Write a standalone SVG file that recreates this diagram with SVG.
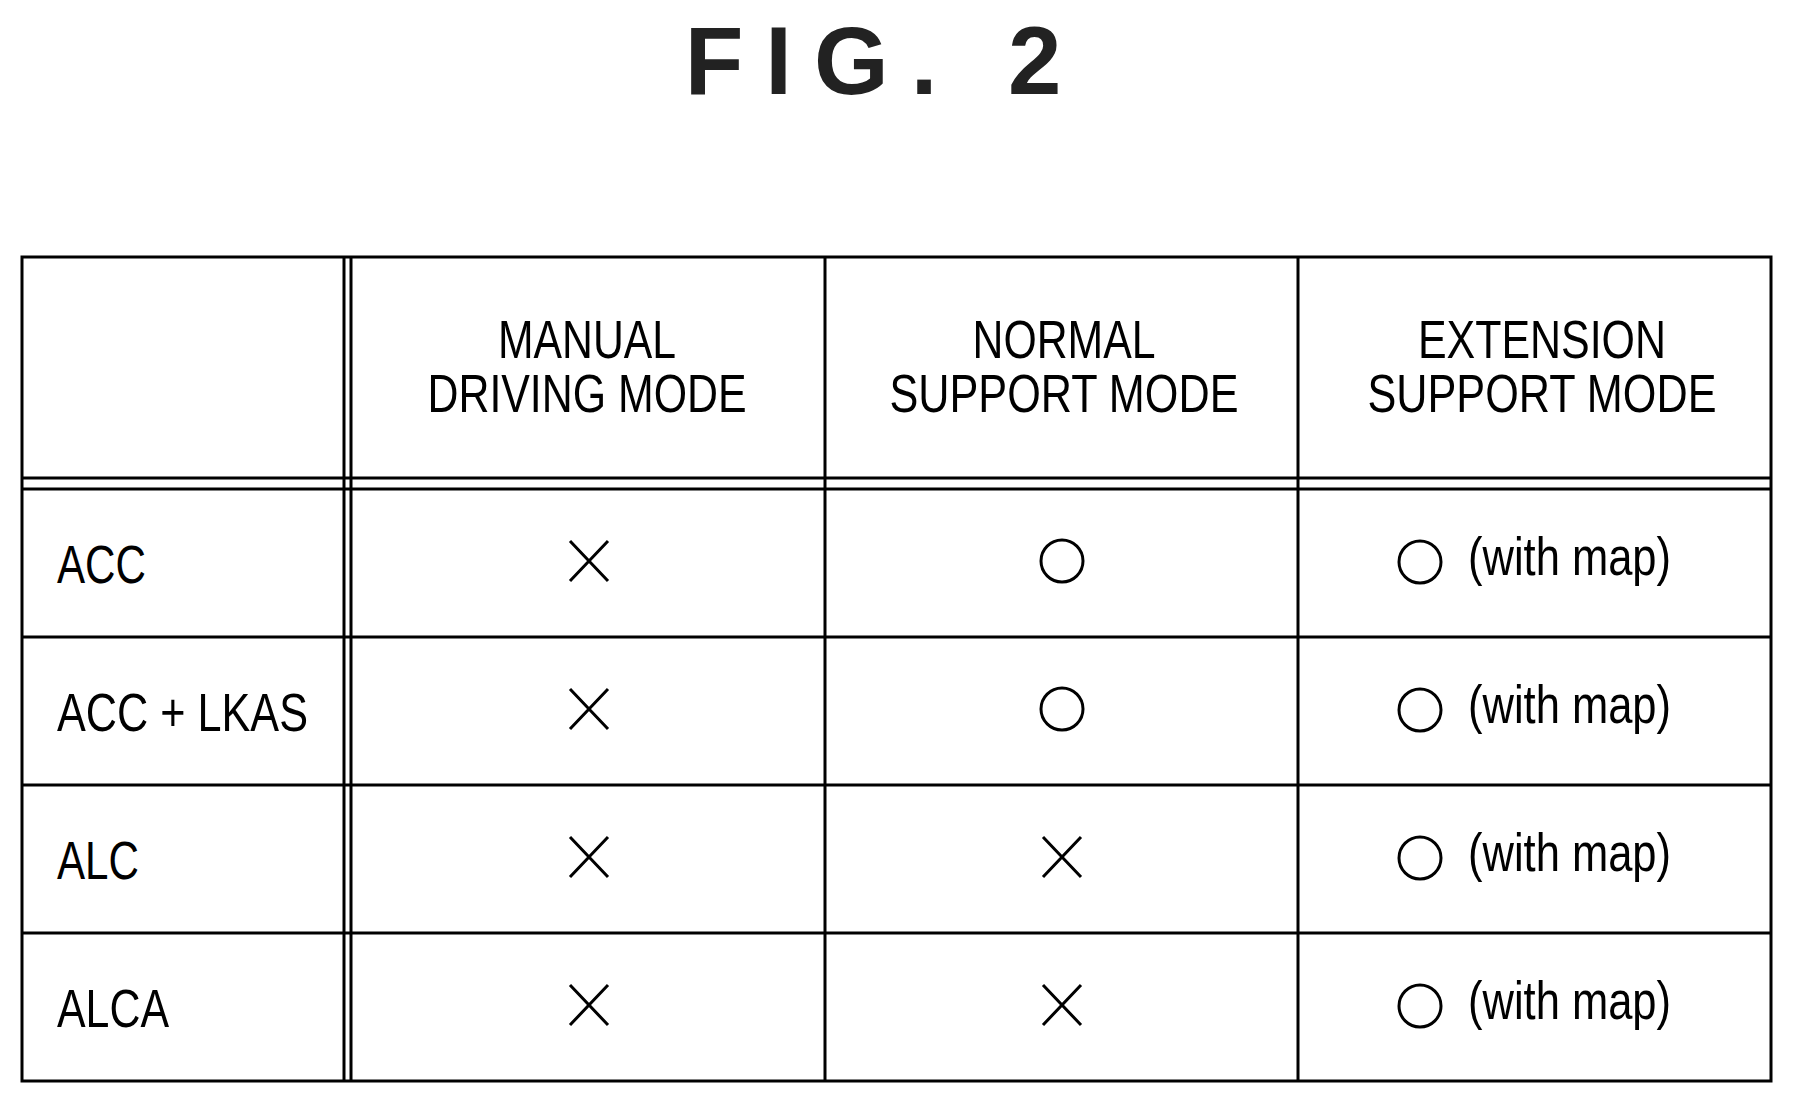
<svg xmlns="http://www.w3.org/2000/svg" width="1793" height="1102" viewBox="0 0 1793 1102">
<style>
.l{stroke:#000;stroke-width:3;fill:none}
.t{font-family:"Liberation Sans",Arial,sans-serif;font-size:54px;fill:#000}
.m{stroke:#000;stroke-width:3;fill:none}
</style>
<rect width="1793" height="1102" fill="#fff"/>
<text x="884" y="94" text-anchor="middle" font-family="Liberation Sans,Arial,sans-serif" font-weight="bold" font-size="96" letter-spacing="22" fill="#222">FIG. 2</text>
<g id="grid">
<rect class="l" x="22" y="257" width="1749" height="824"/>
<line class="l" x1="344" y1="257" x2="344" y2="1081"/>
<line class="l" x1="351" y1="257" x2="351" y2="1081"/>
<line class="l" x1="825" y1="257" x2="825" y2="1081"/>
<line class="l" x1="1298" y1="257" x2="1298" y2="1081"/>
<line class="l" x1="22" y1="478" x2="1771" y2="478"/>
<line class="l" x1="22" y1="489" x2="1771" y2="489"/>
<line class="l" x1="22" y1="637" x2="1771" y2="637"/>
<line class="l" x1="22" y1="785" x2="1771" y2="785"/>
<line class="l" x1="22" y1="933" x2="1771" y2="933"/>
</g>
<g id="header" class="t" text-anchor="middle">
<text x="587" y="358" textLength="178" lengthAdjust="spacingAndGlyphs">MANUAL</text>
<text x="587" y="412" textLength="319" lengthAdjust="spacingAndGlyphs">DRIVING MODE</text>
<text x="1064" y="358" textLength="183" lengthAdjust="spacingAndGlyphs">NORMAL</text>
<text x="1064" y="412" textLength="349" lengthAdjust="spacingAndGlyphs">SUPPORT MODE</text>
<text x="1542" y="358" textLength="248" lengthAdjust="spacingAndGlyphs">EXTENSION</text>
<text x="1542" y="412" textLength="349" lengthAdjust="spacingAndGlyphs">SUPPORT MODE</text>
</g>
<g id="rows" class="t">
<text x="57" y="583" textLength="89" lengthAdjust="spacingAndGlyphs">ACC</text>
<text x="57" y="731" textLength="251" lengthAdjust="spacingAndGlyphs">ACC + LKAS</text>
<text x="57" y="879" textLength="82" lengthAdjust="spacingAndGlyphs">ALC</text>
<text x="57" y="1027" textLength="112" lengthAdjust="spacingAndGlyphs">ALCA</text>
</g>
<defs>
<path id="x" class="m" d="M-19,-20L19,20M19,-20L-19,20"/>
<circle id="o" class="m" r="21"/>
</defs>
<g id="marks">
<use href="#x" x="589" y="561"/><use href="#x" x="589" y="709"/><use href="#x" x="589" y="857"/><use href="#x" x="589" y="1005"/>
<use href="#o" x="1062" y="561"/><use href="#o" x="1062" y="709"/><use href="#x" x="1062" y="857"/><use href="#x" x="1062" y="1005"/>
<use href="#o" x="1420" y="562"/><use href="#o" x="1420" y="710"/><use href="#o" x="1420" y="858"/><use href="#o" x="1420" y="1006"/>
</g>
<g id="withmap" class="t">
<text x="1468" y="575" textLength="203" lengthAdjust="spacingAndGlyphs">(with map)</text>
<text x="1468" y="723" textLength="203" lengthAdjust="spacingAndGlyphs">(with map)</text>
<text x="1468" y="871" textLength="203" lengthAdjust="spacingAndGlyphs">(with map)</text>
<text x="1468" y="1019" textLength="203" lengthAdjust="spacingAndGlyphs">(with map)</text>
</g>
</svg>
